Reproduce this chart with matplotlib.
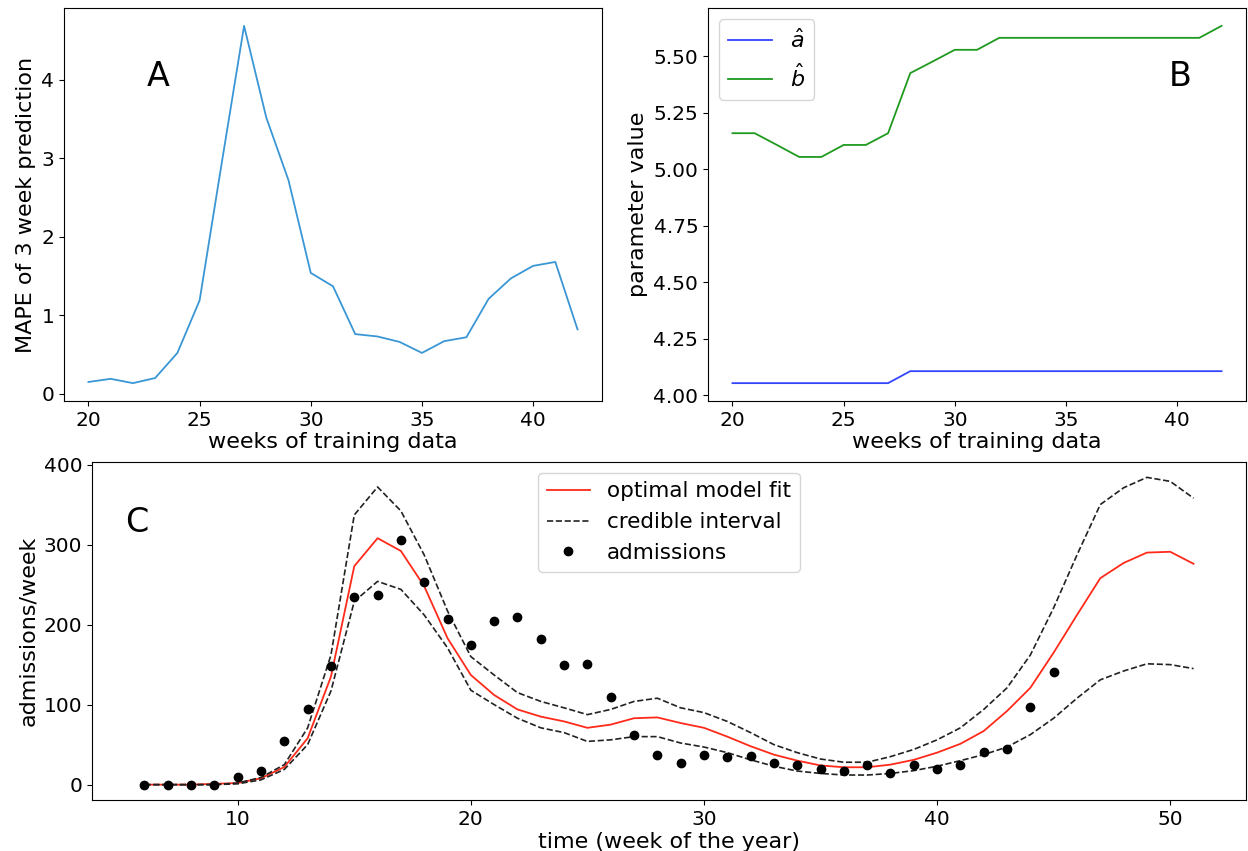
import matplotlib
matplotlib.use("Agg")
import matplotlib.pyplot as plt
import numpy as np

# ---------------- data ----------------
# Panel A
weeks_train = list(range(20, 43))
mape = [0.15, 0.19, 0.135, 0.20, 0.52, 1.19, 2.95, 4.69, 3.52, 2.72, 1.54, 1.37,
        0.76, 0.73, 0.66, 0.52, 0.67, 0.72, 1.21, 1.47, 1.63, 1.68, 0.82]

# Panel B
a_hat = [4.053] * 8 + [4.106] * 15
b_hat = [5.159, 5.159, 5.107, 5.054, 5.054, 5.107, 5.107, 5.159, 5.425, 5.476,
         5.528, 5.528, 5.581, 5.581, 5.581, 5.581, 5.581, 5.581, 5.581, 5.581,
         5.581, 5.581, 5.634]

# Panel C
weeks_model = list(range(6, 52))
fit = [0, 0, 0, 1, 2, 8, 22, 58, 135, 273, 308, 292, 248, 183, 137, 112, 94, 85,
       79, 71, 75, 83, 84, 77, 71, 60, 48, 37.5, 30, 24, 21.7, 21.7, 25, 31, 40,
       51, 67, 92, 121, 165, 212, 258, 277, 290, 291, 276]
upper = [0, 0, 0, 0, 2, 9, 25, 71, 162, 337, 372, 342, 287, 217, 160, 137, 115,
         104, 96, 87.5, 94, 104, 108, 96, 90, 79, 65, 50, 40, 32, 28, 28, 35, 44,
         56, 71, 94, 121, 162, 221, 287, 350, 371, 384, 379, 358]
lower = [0, 0, 0, 0, 1, 6, 19, 50, 117, 229, 254, 244, 212, 171, 118, 100, 83,
         71, 65, 54, 56, 60, 60, 52, 47, 40, 31, 23, 17, 14, 12, 12, 14, 17.5, 23,
         30, 37.5, 47, 62.5, 83, 108, 131, 142, 151, 150, 145]
weeks_obs = list(range(6, 46))
admissions = [0, 0, 0, 0, 9, 17.5, 55, 94, 148, 235, 237, 306, 253, 207, 175,
              204, 209, 182, 150, 151, 110, 62, 37, 27, 37, 35, 36, 27, 24, 19,
              17.5, 24, 15, 24, 20, 24, 41, 44, 97, 141]

# ---------------- figure ----------------
plt.rcParams['font.family'] = ['DejaVu Sans']
fig = plt.figure(figsize=(12.48, 8.51), dpi=100)

TICK = 14.5
LAB = 16
TOP_BOTTOM = 401

axA = fig.add_axes([64/1248, 1-TOP_BOTTOM/851, (602-64)/1248, (TOP_BOTTOM-8)/851])
axA.plot(weeks_train, mape, color='#3a96d4', lw=1.3)
axA.set_xlabel('weeks of training data', fontsize=LAB, labelpad=2)
axA.set_ylabel('MAPE of 3 week prediction', fontsize=LAB)
axA.set_xticks([20, 25, 30, 35, 40])
axA.set_yticks([0, 1, 2, 3, 4])
axA.tick_params(labelsize=TICK)
axA.text(0.175, 0.826, 'A', transform=axA.transAxes, fontsize=24,
         ha='center', va='center')

axB = fig.add_axes([708/1248, 1-TOP_BOTTOM/851, (1246-708)/1248, (TOP_BOTTOM-8)/851])
axB.plot(weeks_train, a_hat, color='#3344ff', lw=1.3, label=r'$\hat{a}$')
axB.plot(weeks_train, b_hat, color='#1f9a1f', lw=1.3, label=r'$\hat{b}$')
axB.set_xlabel('weeks of training data', fontsize=LAB, labelpad=2)
axB.set_ylabel('parameter value', fontsize=LAB)
axB.set_xticks([20, 25, 30, 35, 40])
axB.set_yticks([4.0, 4.25, 4.5, 4.75, 5.0, 5.25, 5.5])
axB.set_yticklabels(['4.00', '4.25', '4.50', '4.75', '5.00', '5.25', '5.50'])
axB.tick_params(labelsize=TICK)
axB.legend(loc='upper left', fontsize=LAB)
axB.text(0.877, 0.826, 'B', transform=axB.transAxes, fontsize=24,
         ha='center', va='center')

axC = fig.add_axes([92/1248, 1-800/851, (1246-92)/1248, (800-462)/851])
axC.plot(weeks_model, fit, color='#ff2a1a', lw=1.3, label='optimal model fit')
axC.plot(weeks_model, upper, color='#222222', ls='--', lw=1.2,
         label='credible interval')
axC.plot(weeks_model, lower, color='#222222', ls='--', lw=1.2)
axC.plot(weeks_obs, admissions, 'o', color='black', ms=6, ls='none',
         label='admissions')
axC.set_xlabel('time (week of the year)', fontsize=LAB, labelpad=2)
axC.set_ylabel('admissions/week', fontsize=LAB)
axC.set_xticks([10, 20, 30, 40, 50])
axC.set_yticks([0, 100, 200, 300, 400])
axC.tick_params(labelsize=TICK)
axC.legend(loc='upper center', fontsize=15.5)
axC.text(0.039, 0.822, 'C', transform=axC.transAxes, fontsize=24,
         ha='center', va='center')

fig.savefig('out.png', dpi=100)
